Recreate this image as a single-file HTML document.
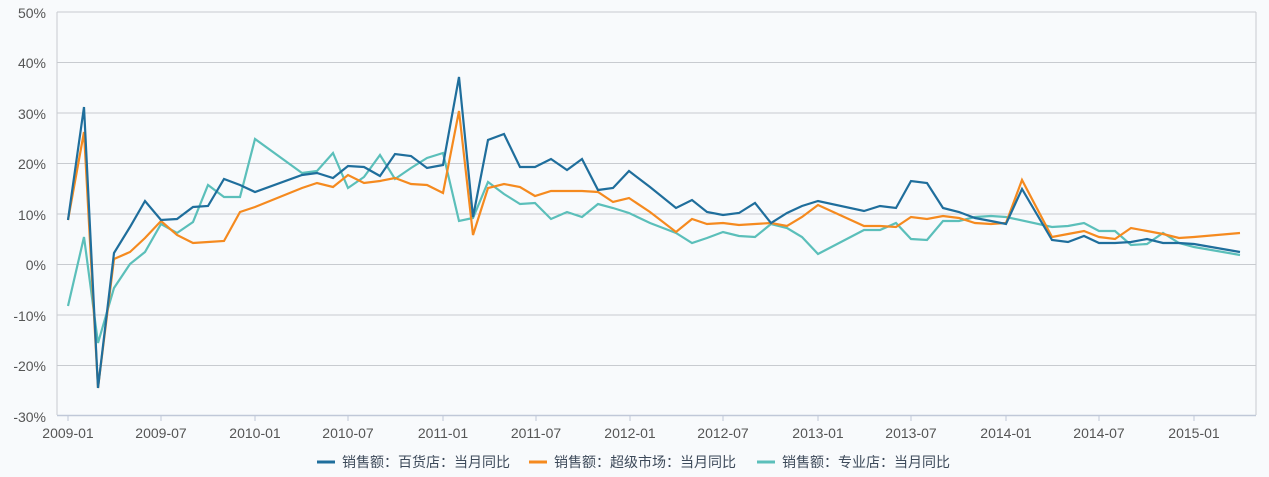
<!DOCTYPE html>
<html><head><meta charset="utf-8"><style>
html,body{margin:0;padding:0;background:#f8fafc;}
svg{display:block;font-family:"Liberation Sans","Noto Sans CJK SC",sans-serif;}
</style></head><body>
<svg width="1269" height="477" viewBox="0 0 1269 477">
<rect width="1269" height="477" fill="#f8fafc"/>
<g stroke="#c8cbd0" stroke-width="1">
<line x1="57" y1="12" x2="1256" y2="12"/>
<line x1="57" y1="62.5" x2="1256" y2="62.5"/>
<line x1="57" y1="113" x2="1256" y2="113"/>
<line x1="57" y1="163.5" x2="1256" y2="163.5"/>
<line x1="57" y1="214" x2="1256" y2="214"/>
<line x1="57" y1="264.5" x2="1256" y2="264.5"/>
<line x1="57" y1="315" x2="1256" y2="315"/>
<line x1="57" y1="365.5" x2="1256" y2="365.5"/>
<line x1="1256" y1="12" x2="1256" y2="415"/>
<line x1="57" y1="12" x2="57" y2="415"/>
</g>
<line x1="57" y1="415.5" x2="1256" y2="415.5" stroke="#c0c8d8" stroke-width="1.5"/>
<g stroke="#c0c8d8" stroke-width="1">
<line x1="68" y1="415" x2="68" y2="421"/><line x1="161" y1="415" x2="161" y2="421"/><line x1="255" y1="415" x2="255" y2="421"/><line x1="348" y1="415" x2="348" y2="421"/><line x1="443" y1="415" x2="443" y2="421"/><line x1="536" y1="415" x2="536" y2="421"/><line x1="630" y1="415" x2="630" y2="421"/><line x1="723" y1="415" x2="723" y2="421"/><line x1="818" y1="415" x2="818" y2="421"/><line x1="911" y1="415" x2="911" y2="421"/><line x1="1006" y1="415" x2="1006" y2="421"/><line x1="1099" y1="415" x2="1099" y2="421"/><line x1="1194" y1="415" x2="1194" y2="421"/>
</g>
<g fill="#555" font-size="14" text-anchor="end">
<text x="46" y="18">50%</text><text x="46" y="68">40%</text><text x="46" y="119">30%</text><text x="46" y="169">20%</text><text x="46" y="220">10%</text><text x="46" y="270">0%</text><text x="46" y="321">-10%</text><text x="46" y="371">-20%</text><text x="46" y="422">-30%</text>
</g>
<g fill="#555" font-size="14" text-anchor="middle">
<text x="68" y="438">2009-01</text><text x="161" y="438">2009-07</text><text x="255" y="438">2010-01</text><text x="348" y="438">2010-07</text><text x="443" y="438">2011-01</text><text x="536" y="438">2011-07</text><text x="630" y="438">2012-01</text><text x="723" y="438">2012-07</text><text x="818" y="438">2013-01</text><text x="911" y="438">2013-07</text><text x="1006" y="438">2014-01</text><text x="1099" y="438">2014-07</text><text x="1194" y="438">2015-01</text>
</g>
<g fill="none" stroke-width="2.2" stroke-linejoin="miter">
<polyline stroke="#5bbfba" points="68,306 84,237 98,343 114,288 130,264 145,252 161,224 177,233 193,222 208,185 224,197 240,197 255,139 302,173 317,171 333,153 348,188 364,177 380,155 395,179 411,168 427,158 443,153 459,221 473,218 488,182 504,194 520,204 535,203 551,219 567,212 582,217 598,204 613,208 629,213 650,223 676,233 692,243 707,238 723,232 739,236 755,237 771,224 787,228 802,237 818,254 864,230 880,230 896,223 911,239 927,240 943,221 959,221 975,217 991,216 1006,217 1052,227 1068,226 1084,223 1099,231 1115,231 1131,245 1147,244 1163,233 1179,243 1194,247 1240,255"/>
<polyline stroke="#f58a1f" points="68,220 84,132 98,388 114,259 130,252 145,238 161,221 177,235 193,243 208,242 224,241 240,212 255,207 302,188 317,183 333,187 348,175 364,183 380,181 395,178 411,184 427,185 443,193 459,111 473,235 488,188 504,184 520,187 535,196 551,191 567,191 582,191 598,192 613,202 629,198 650,212 676,232 692,219 707,224 723,223 739,225 755,224 771,223 787,226 802,217 818,205 864,226 880,226 896,227 911,217 927,219 943,216 959,218 975,223 991,224 1006,223 1022,180 1052,237 1068,234 1084,231 1099,237 1115,239 1131,228 1147,231 1163,234 1179,238 1194,237 1240,233"/>
<polyline stroke="#1f6e9c" points="68,220 84,107 98,388 114,253 130,227 145,201 161,220 177,219 193,207 208,206 224,179 240,185 255,192 302,175 317,173 333,178 348,166 364,167 380,176 395,154 411,156 427,168 443,165 459,77 473,217 488,140 504,134 520,167 535,167 551,159 567,170 582,159 598,190 613,188 629,171 650,187 676,208 692,200 707,212 723,215 739,213 755,203 771,223 787,213 802,206 818,201 864,211 880,206 896,208 911,181 927,183 943,208 959,212 975,218 991,221 1006,224 1022,189 1052,240 1068,242 1084,236 1099,243 1115,243 1131,242 1147,239 1163,243 1179,243 1194,244 1240,252"/>
</g>
<g stroke-width="3">
<line x1="317" y1="462" x2="335" y2="462" stroke="#1f6e9c"/>
<line x1="529" y1="462" x2="547" y2="462" stroke="#f58a1f"/>
<line x1="757" y1="462" x2="775" y2="462" stroke="#5bbfba"/>
</g>
<g fill="#3d4a5a" font-size="14">
<text x="342" y="467">销售额：百货店：当月同比</text>
<text x="554" y="467">销售额：超级市场：当月同比</text>
<text x="782" y="467">销售额：专业店：当月同比</text>
</g>
</svg>
</body></html>
